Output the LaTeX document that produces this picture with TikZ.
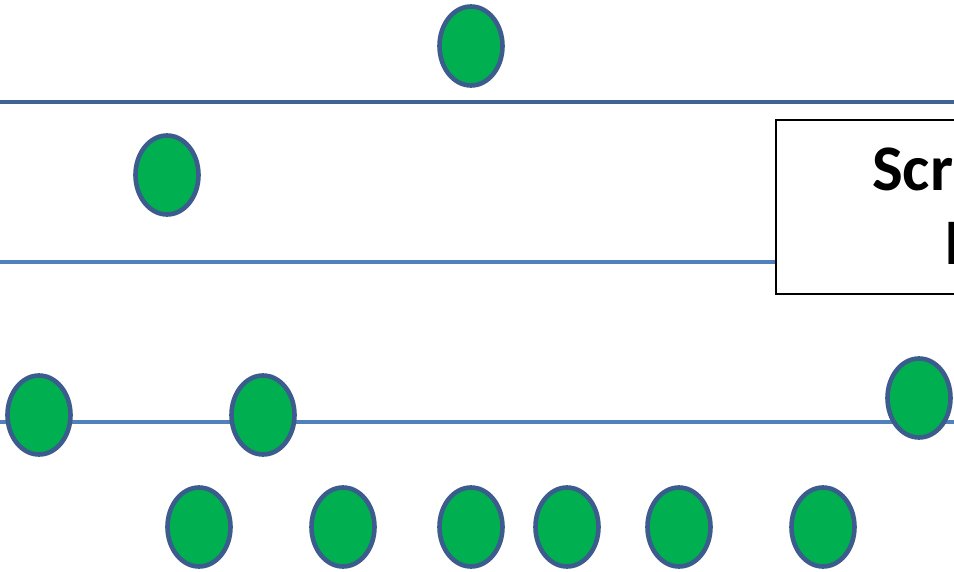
\documentclass[tikz,border=0pt]{standalone}
\usepackage{fontspec}
\setmainfont{Carlito}
\usetikzlibrary{shapes.geometric}
\definecolor{dotfill}{HTML}{00B050}
\definecolor{dotedge}{HTML}{3B5C8C}
\definecolor{lineA}{HTML}{3F6492}
\definecolor{lineB}{HTML}{4F81BD}
\tikzset{
  dot/.style={ellipse, draw=dotedge, fill=dotfill, line width=4.6pt, inner sep=0pt, minimum width=63pt, minimum height=79pt},
  rail/.style={line width=4pt, lineB},
  toprail/.style={line width=4pt, lineA},
  panel/.style={draw=black, line width=1.8pt, fill=white},
  bigtxt/.style={font=\bfseries\fontsize{65}{78}\selectfont, inner sep=0pt, anchor=base west}
}
\begin{document}
\begin{tikzpicture}[x=1pt,y=-1pt]
\useasboundingbox (0,0) rectangle (954,572);
\clip (0,0) rectangle (954,572);
\coordinate (t0) at (0,102); \coordinate (t1) at (954,102);
\coordinate (m0) at (0,262); \coordinate (m1) at (776,262);
\coordinate (b0) at (0,422); \coordinate (b1) at (954,422);
\draw[toprail] (t0) -- (t1);
\draw[rail] (m0) -- (m1);
\draw[rail] (b0) -- (b1);
\draw[panel] (776,120) rectangle (1010,294);
\node[bigtxt] (s1) at (872,191) {Scr};
\node[bigtxt] (s2) at (944,265) {I};
\node[dot] (d1) at (471,46) {};
\node[dot] (d2) at (167,175) {};
\node[dot] (d3) at (39,415) {};
\node[dot] (d4) at (263,415) {};
\node[dot] (d5) at (919,398) {};
\node[dot] (e1) at (199,527) {};
\node[dot] (e2) at (343,527) {};
\node[dot] (e3) at (471,527) {};
\node[dot] (e4) at (567,527) {};
\node[dot] (e5) at (679,527) {};
\node[dot] (e6) at (823,527) {};
\end{tikzpicture}
\end{document}
